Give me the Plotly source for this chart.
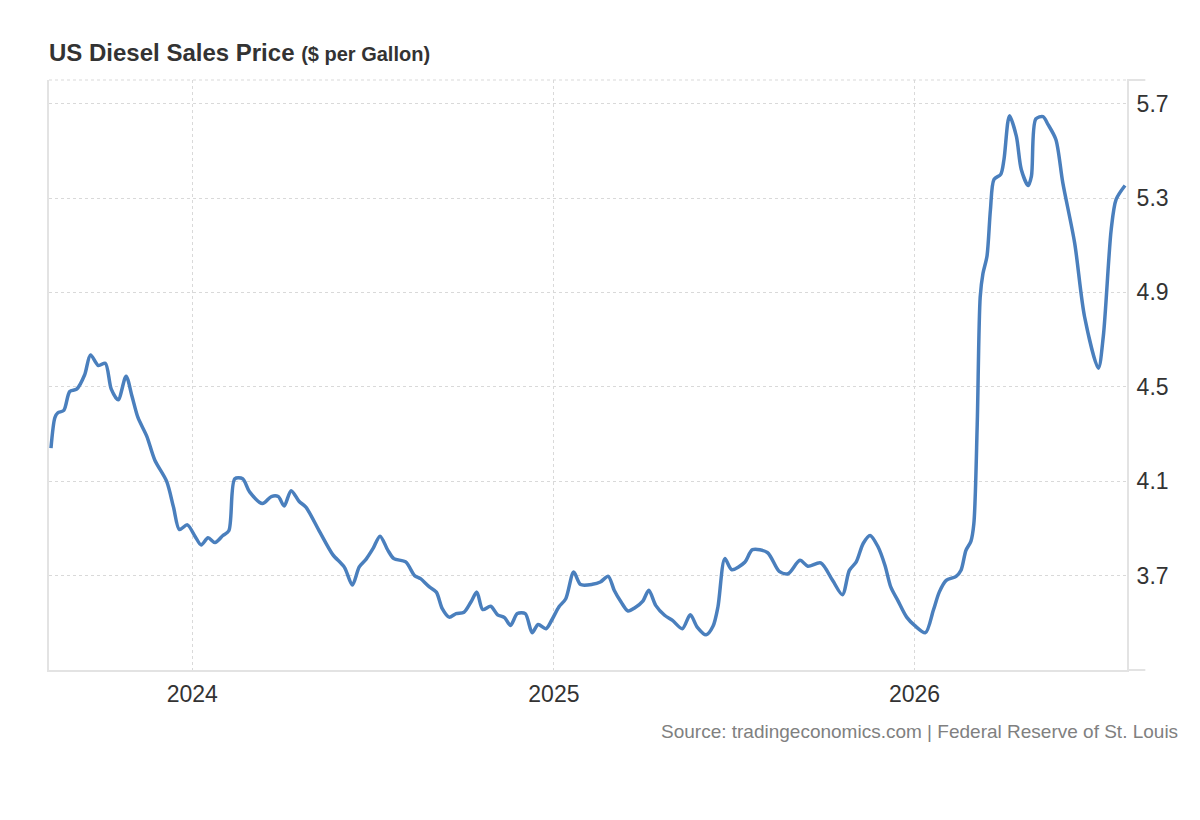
import plotly.graph_objects as go

# weekly price readings, $ per gallon
dates = [
    "2023-08-11", "2023-08-15", "2023-08-18", "2023-08-24", "2023-08-30",
    "2023-09-06", "2023-09-14", "2023-09-20", "2023-09-28", "2023-10-05",
    "2023-10-11", "2023-10-18", "2023-10-26", "2023-11-01", "2023-11-07",
    "2023-11-16", "2023-11-24", "2023-12-06", "2023-12-13", "2023-12-19",
    "2023-12-27", "2024-01-04", "2024-01-10", "2024-01-17", "2024-01-24",
    "2024-02-01", "2024-02-07", "2024-02-13", "2024-02-21", "2024-02-28",
    "2024-03-12", "2024-03-21", "2024-03-28", "2024-04-03", "2024-04-10",
    "2024-04-18", "2024-04-25", "2024-05-09", "2024-05-22", "2024-06-03",
    "2024-06-11", "2024-06-18", "2024-06-25", "2024-07-02", "2024-07-09",
    "2024-07-17", "2024-07-23", "2024-08-04", "2024-08-13", "2024-08-19",
    "2024-08-28", "2024-09-04", "2024-09-10", "2024-09-17", "2024-09-24",
    "2024-10-02", "2024-10-09", "2024-10-15", "2024-10-21", "2024-10-29",
    "2024-11-05", "2024-11-12", "2024-11-18", "2024-11-25", "2024-12-03",
    "2024-12-10", "2024-12-16", "2024-12-24", "2024-12-30", "2025-01-06",
    "2025-01-13", "2025-01-21", "2025-01-28", "2025-02-09", "2025-02-17",
    "2025-02-25", "2025-03-03", "2025-03-10", "2025-03-17", "2025-03-24",
    "2025-04-01", "2025-04-07", "2025-04-14", "2025-04-23", "2025-05-01",
    "2025-05-11", "2025-05-19", "2025-05-26", "2025-06-04", "2025-06-11",
    "2025-06-16", "2025-06-23", "2025-06-30", "2025-07-13", "2025-07-21",
    "2025-08-05", "2025-08-17", "2025-08-26", "2025-09-07", "2025-09-15",
    "2025-09-28", "2025-10-10", "2025-10-20", "2025-10-27", "2025-11-03",
    "2025-11-10", "2025-11-17", "2025-11-25", "2025-12-02", "2025-12-08",
    "2025-12-15", "2025-12-24", "2026-01-01", "2026-01-12", "2026-01-20",
    "2026-01-26", "2026-02-02", "2026-02-12", "2026-02-17", "2026-02-22",
    "2026-02-27", "2026-03-02", "2026-03-05 10:00", "2026-03-08 10:00",
    "2026-03-11 05:00", "2026-03-15 07:00", "2026-03-18 19:00",
    "2026-03-22 10:00", "2026-03-29 05:00", "2026-04-01 12:00", "2026-04-07",
    "2026-04-14", "2026-04-19", "2026-04-26", "2026-04-29 07:00",
    "2026-05-03 17:00", "2026-05-11", "2026-05-16", "2026-05-24", "2026-05-31",
    "2026-06-12", "2026-06-22", "2026-07-06", "2026-07-11", "2026-07-19",
    "2026-07-24", "2026-08-02",
]
prices = [
    4.24, 4.37, 4.39, 4.40, 4.48,
    4.49, 4.55, 4.635, 4.59, 4.60,
    4.49, 4.445, 4.545, 4.46, 4.37,
    4.29, 4.19, 4.10, 3.99, 3.895,
    3.915, 3.865, 3.83, 3.86, 3.84,
    3.87, 3.89, 4.11, 4.11, 4.055,
    4.005, 4.035, 4.035, 3.995, 4.06,
    4.015, 3.99, 3.885, 3.79, 3.735,
    3.66, 3.737, 3.77, 3.815, 3.867,
    3.807, 3.772, 3.758, 3.70, 3.687,
    3.652, 3.63, 3.56, 3.524, 3.539,
    3.545, 3.588, 3.63, 3.556, 3.57,
    3.534, 3.522, 3.489, 3.539, 3.539,
    3.458, 3.493, 3.475, 3.513, 3.567,
    3.602, 3.715, 3.662, 3.663, 3.673,
    3.697, 3.638, 3.588, 3.55, 3.564,
    3.592, 3.638, 3.574, 3.532, 3.51,
    3.475, 3.534, 3.482, 3.449, 3.485,
    3.567, 3.772, 3.725, 3.756, 3.81,
    3.798, 3.718, 3.708, 3.765, 3.74,
    3.754, 3.68, 3.619, 3.722, 3.758,
    3.836, 3.87, 3.822, 3.744, 3.651,
    3.595, 3.524, 3.489, 3.458, 3.553,
    3.63, 3.68, 3.697, 3.723, 3.807,
    3.845, 3.92, 4.34, 4.88,
    4.98, 5.053, 5.251,
    5.379, 5.40, 5.463, 5.648,
    5.562, 5.421, 5.353, 5.393,
    5.635, 5.645, 5.612, 5.548, 5.365,
    5.11, 4.798, 4.579, 4.713, 5.166,
    5.294, 5.353,
]

year_ticks = ["2024-01-01", "2025-01-01", "2026-01-01"]
year_labels = ["2024", "2025", "2026"]
price_ticks = [3.7, 4.1, 4.5, 4.9, 5.3, 5.7]

fig = go.Figure()

fig.add_trace(go.Scatter(
    x=dates, y=prices,
    mode="lines",
    line=dict(color="#4a7fbd", width=3.5, shape="spline", smoothing=0.8),
    hoverinfo="x+y",
))

fig.update_xaxes(
    type="date",
    range=["2023-08-09", "2026-08-04"],
    tickvals=year_ticks, ticktext=year_labels,
    showgrid=True, gridcolor="#d9d9d9", griddash="dot", gridwidth=1,
    showline=True, linecolor="#e3e3e3", linewidth=2,
    ticks="", ticklabelstandoff=2,
    tickfont=dict(size=23, color="#333333"),
    zeroline=False,
)
fig.update_yaxes(
    side="right",
    range=[3.3, 5.8],
    tickvals=price_ticks, ticktext=[f"{v:.1f}" for v in price_ticks],
    showgrid=True, gridcolor="#d9d9d9", griddash="dot", gridwidth=1,
    showline=True, linecolor="#e3e3e3", linewidth=2, mirror=True,
    ticks="", ticklabelstandoff=3,
    tickfont=dict(size=23, color="#333333"),
    zeroline=False,
)

# dotted top border, plus the short axis stubs on the right
fig.add_shape(type="line", xref="paper", yref="paper", x0=0, x1=1, y0=1, y1=1,
              line=dict(color="#d9d9d9", width=1, dash="dot"))
fig.add_shape(type="line", xref="paper", yref="paper", x0=1, x1=1.017, y0=1, y1=1,
              line=dict(color="#e3e3e3", width=2))
fig.add_shape(type="line", xref="paper", yref="paper", x0=1, x1=1.017, y0=0, y1=0,
              line=dict(color="#e3e3e3", width=2))

fig.add_annotation(
    text="Source: tradingeconomics.com | Federal Reserve of St. Louis",
    xref="paper", yref="paper", x=1.0492, y=-0.105,
    xanchor="right", yanchor="middle", showarrow=False,
    font=dict(size=19, color="#808080"),
)

fig.update_layout(
    width=1200, height=820,
    margin=dict(l=41, r=81, t=72, b=158),
    paper_bgcolor="white", plot_bgcolor="white",
    font=dict(family="Liberation Sans, Arial, sans-serif", color="#333333"),
    title=dict(
        text="<b>US Diesel Sales Price</b> <b><span style='font-size:20px'>($ per Gallon)</span></b>",
        xref="container", yref="container", x=41 / 1200, y=1 - 45 / 820,
        xanchor="left", yanchor="middle",
        font=dict(size=24, color="#333333"),
    ),
    showlegend=False,
)

fig.write_html("out.html")
